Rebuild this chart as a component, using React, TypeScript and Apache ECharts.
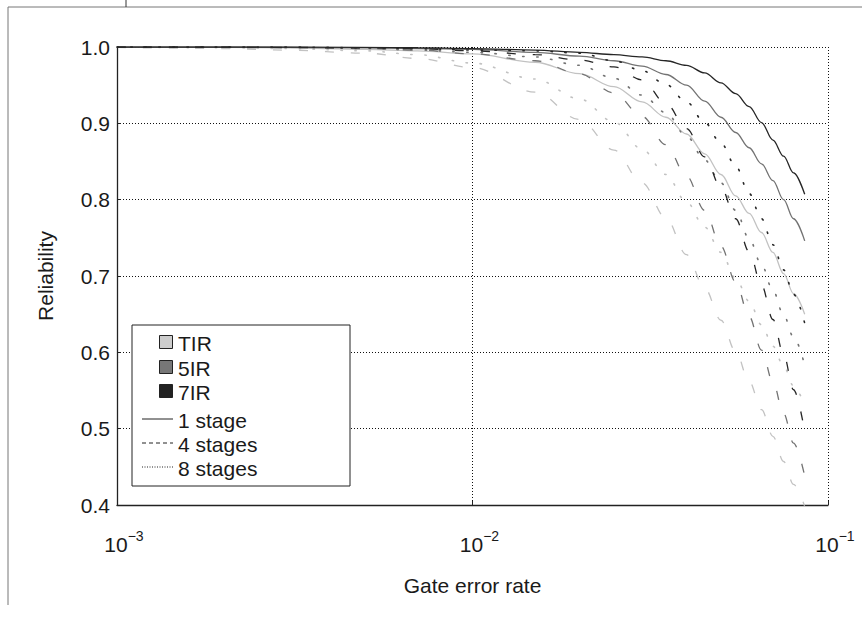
import React, { useEffect, useRef } from "react";
import * as echarts from "echarts";

// Gate error rate samples (x)
const errorRates = [0.001, 0.002, 0.003, 0.005, 0.007, 0.01, 0.015, 0.02, 0.025, 0.03, 0.035, 0.04, 0.045, 0.05, 0.055, 0.06, 0.065, 0.07, 0.075, 0.08, 0.086];

// Reliability, 1 stage
const tir1 = [1.0, 0.9995, 0.999, 0.997, 0.995, 0.991, 0.98, 0.965, 0.948, 0.928, 0.908, 0.886, 0.86, 0.833, 0.805, 0.782, 0.757, 0.731, 0.703, 0.677, 0.65];
const ir5_1 = [1.0, 1.0, 0.9995, 0.999, 0.998, 0.997, 0.993, 0.988, 0.982, 0.975, 0.964, 0.95, 0.929, 0.908, 0.888, 0.868, 0.847, 0.825, 0.8, 0.775, 0.746];
const ir7_1 = [1.0, 1.0, 1.0, 0.9995, 0.999, 0.998, 0.996, 0.993, 0.99, 0.987, 0.982, 0.976, 0.966, 0.953, 0.939, 0.922, 0.901, 0.878, 0.857, 0.835, 0.807];

// Reliability, 4 stages
const tir4 = [0.9995, 0.998, 0.996, 0.992, 0.985, 0.973, 0.941, 0.905, 0.865, 0.822, 0.776, 0.728, 0.684, 0.642, 0.601, 0.562, 0.525, 0.49, 0.457, 0.427, 0.398];
const ir5_4 = [1.0, 0.9995, 0.999, 0.998, 0.996, 0.991, 0.982, 0.965, 0.94, 0.909, 0.872, 0.831, 0.786, 0.739, 0.692, 0.647, 0.603, 0.561, 0.52, 0.481, 0.438];
const ir7_4 = [1.0, 1.0, 0.9995, 0.999, 0.998, 0.995, 0.99, 0.983, 0.974, 0.957, 0.926, 0.893, 0.856, 0.816, 0.775, 0.732, 0.688, 0.643, 0.597, 0.551, 0.496];

// Reliability, 8 stages
const tir8 = [1.0, 0.999, 0.998, 0.995, 0.99, 0.979, 0.958, 0.932, 0.902, 0.866, 0.833, 0.797, 0.764, 0.731, 0.697, 0.667, 0.636, 0.608, 0.582, 0.556, 0.53];
const ir5_8 = [1.0, 1.0, 0.9995, 0.998, 0.996, 0.993, 0.987, 0.976, 0.959, 0.937, 0.914, 0.883, 0.852, 0.822, 0.786, 0.749, 0.715, 0.681, 0.649, 0.62, 0.583];
const ir7_8 = [1.0, 1.0, 1.0, 0.999, 0.998, 0.996, 0.995, 0.992, 0.982, 0.969, 0.951, 0.928, 0.901, 0.874, 0.844, 0.808, 0.775, 0.741, 0.708, 0.676, 0.638];

const shadeNames = ["TIR", "5IR", "7IR"];
const stageNames = ["1 stage", "4 stages", "8 stages"];
const xExponents = ["\u22123", "\u22122", "\u22121"];
const xTickValues = [0.001, 0.01, 0.1];

const seriesTable = [
  [tir1, tir4, tir8],
  [ir5_1, ir5_4, ir5_8],
  [ir7_1, ir7_4, ir7_8],
];

const shadeColors = ["#c2c2c2", "#737373", "#262626"];
const legendFills = ["#cccccc", "#777777", "#222222"];
const stageDash: any[] = ["solid", [9, 17], [1.4, 12.6]];
const legendDash: any[] = [null, [4, 3], [1, 1.5]];

const FONT = "'Liberation Sans', Arial, Helvetica, sans-serif";

export default function App() {
  const ref = useRef<HTMLDivElement>(null);
  useEffect(() => {
    if (!ref.current) return;
    const chart = echarts.init(ref.current, null, { renderer: "svg" });

    const series: any[] = [];
    seriesTable.forEach((stages, si) => {
      stages.forEach((vals, ti) => {
        series.push({
          name: shadeNames[si] + " " + stageNames[ti],
          type: "line",
          data: errorRates.map((p, i) => [p, vals[i]]),
          showSymbol: false,
          smooth: 0.35,
          smoothMonotone: "x",
          silent: true,
          z: 3,
          lineStyle: {
            color: shadeColors[si],
            width: ti === 2 ? 1.6 : 1.3,
            type: stageDash[ti],
            cap: ti === 2 ? "round" : "butt",
          },
        });
      });
    });

    const legendX = 132, legendY = 325;
    const rowYs = [342, 367, 391, 419, 443, 467];
    const graphic: any[] = [
      { type: "line", shape: { x1: 8, y1: 7, x2: 862, y2: 7 }, style: { stroke: "#777", lineWidth: 1 }, silent: true },
      { type: "line", shape: { x1: 8, y1: 7, x2: 8, y2: 605 }, style: { stroke: "#777", lineWidth: 1 }, silent: true },
      { type: "line", shape: { x1: 126, y1: 0, x2: 126, y2: 7 }, style: { stroke: "#333", lineWidth: 1 }, silent: true },
      {
        type: "rect",
        shape: { x: legendX, y: legendY, width: 218, height: 161 },
        style: { fill: "#fff", stroke: "#222", lineWidth: 1 },
        z: 100,
      },
    ];
    shadeNames.forEach((n, i) => {
      const cy = rowYs[i];
      graphic.push({
        type: "rect",
        shape: { x: 159.5, y: cy - 6.5, width: 13, height: 13 },
        style: { fill: legendFills[i], stroke: "#222", lineWidth: 1 },
        z: 101,
      });
      graphic.push({
        type: "text",
        x: 178,
        y: cy + 1,
        style: { text: n, fontSize: 21, fontFamily: FONT, fill: "#1a1a1a", verticalAlign: "middle", align: "left" },
        z: 101,
      });
    });
    stageNames.forEach((n, i) => {
      const cy = rowYs[3 + i];
      graphic.push({
        type: "line",
        shape: { x1: 142, y1: cy, x2: 173, y2: cy },
        style: { stroke: "#222", lineWidth: 1, lineDash: legendDash[i] || undefined },
        z: 101,
      });
      graphic.push({
        type: "text",
        x: 178,
        y: cy + 1,
        style: { text: n, fontSize: 21, fontFamily: FONT, fill: "#1a1a1a", verticalAlign: "middle", align: "left" },
        z: 101,
      });
    });

    chart.setOption({
      animation: false,
      backgroundColor: "#fff",
      textStyle: { fontFamily: FONT },
      grid: { left: 117, top: 47, right: 34, bottom: 122, containLabel: false },
      xAxis: {
        type: "log",
        logBase: 10,
        min: 0.001,
        max: 0.1,
        name: "Gate error rate",
        nameLocation: "middle",
        nameGap: 70,
        nameTextStyle: { fontSize: 21, color: "#1a1a1a", fontFamily: FONT },
        axisLine: { show: true, lineStyle: { color: "#222", width: 1.3 } },
        axisTick: { show: true, inside: true, length: 4, lineStyle: { color: "#222" } },
        minorTick: { show: false },
        splitLine: { show: true, lineStyle: { color: "#111", width: 1, type: [1, 2] } },
        axisLabel: {
          margin: 24,
          color: "#1a1a1a",
          padding: [0, 0, 0, 14],
          formatter: (v: number) => {
            const idx = xTickValues.findIndex((t) => Math.abs(Math.log10(t) - Math.log10(v)) < 1e-6);
            return idx >= 0 ? `{b|10}{s|${xExponents[idx]}}` : "";
          },
          rich: {
            b: { fontSize: 21, fontFamily: FONT, color: "#1a1a1a" },
            s: { fontSize: 14, fontFamily: FONT, color: "#1a1a1a", padding: [0, 0, 16, 0] },
          },
        },
      },
      yAxis: {
        type: "value",
        min: 0.4,
        max: 1.0,
        interval: 0.1,
        name: "Reliability",
        nameLocation: "middle",
        nameGap: 61,
        nameTextStyle: { fontSize: 21, color: "#1a1a1a", fontFamily: FONT },
        axisLine: { show: true, lineStyle: { color: "#222", width: 1.3 } },
        axisTick: { show: true, inside: true, length: 4, lineStyle: { color: "#222" } },
        splitLine: { show: true, lineStyle: { color: "#111", width: 1, type: [1, 2] } },
        axisLabel: {
          margin: 7,
          fontSize: 21,
          color: "#1a1a1a",
          fontFamily: FONT,
          formatter: (v: number) => v.toFixed(1),
        },
      },
      series,
      graphic,
    });
    return () => chart.dispose();
  }, []);
  return (
    <div
      ref={ref}
      style={{ position: "fixed", left: 0, top: 0, width: 862, height: 627, background: "#fff" }}
    />
  );
}
